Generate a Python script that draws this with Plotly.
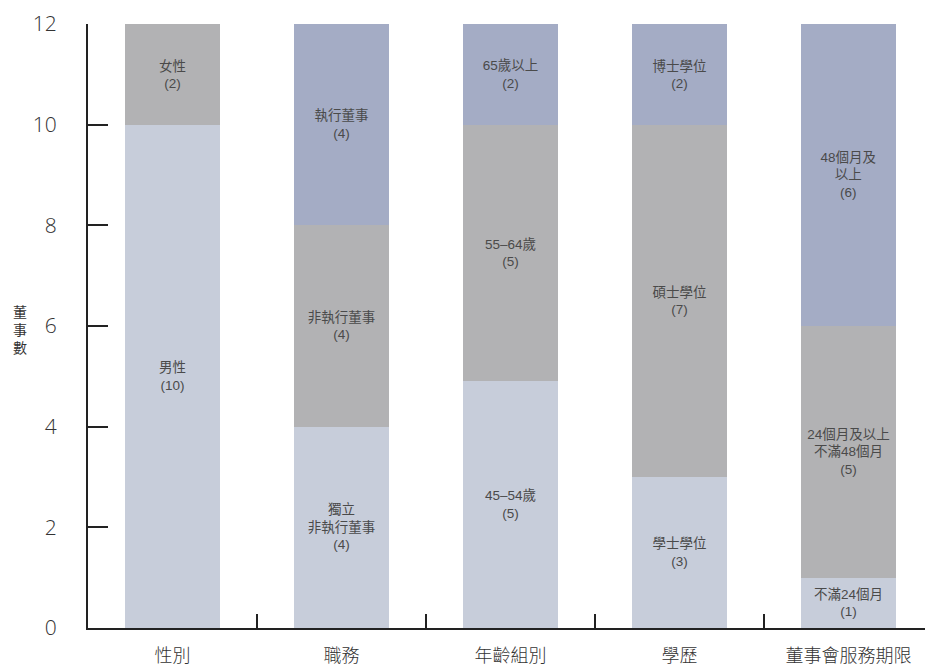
import plotly.graph_objects as go

categories = ["性別", "職務", "年齡組別", "學歷", "董事會服務期限"]

bottom_values = [10, 4, 4.9, 3, 1]
bottom_labels = ["男性<br>(10)", "獨立<br>非執行董事<br>(4)", "45–54歲<br>(5)", "學士學位<br>(3)", "不滿24個月<br>(1)"]

middle_values = [2, 4, 5.1, 7, 5]
middle_labels = ["女性<br>(2)", "非執行董事<br>(4)", "55–64歲<br>(5)", "碩士學位<br>(7)", "24個月及以上<br>不滿48個月<br>(5)"]

top_values = [0, 4, 2, 2, 6]
top_labels = ["", "執行董事<br>(4)", "65歲以上<br>(2)", "博士學位<br>(2)", "48個月及<br>以上<br>(6)"]

y_ticks = [0, 2, 4, 6, 8, 10, 12]

FONT = "Open Sans, Noto Sans CJK TC, sans-serif"
LABEL_FONT = "Liberation Sans, Noto Sans CJK TC, sans-serif"
colors = ["#C7CDDA", "#B2B2B4", "#A4ACC5"]

fig = go.Figure()
for vals, labels, col in [(bottom_values, bottom_labels, colors[0]),
                          (middle_values, middle_labels, colors[1]),
                          (top_values, top_labels, colors[2])]:
    fig.add_trace(go.Bar(
        x=categories, y=vals, text=labels,
        marker=dict(color=col, line=dict(width=0)),
        width=0.56,
        textposition="inside", insidetextanchor="middle",
        constraintext="none", textangle=0,
        textfont=dict(family=LABEL_FONT, size=13.5, color="#4a4a4a"),
        hoverinfo="skip", showlegend=False,
    ))

fig.update_layout(
    barmode="stack",
    width=925, height=666,
    margin=dict(l=88, r=0, t=24, b=38),
    plot_bgcolor="white", paper_bgcolor="white",
    font=dict(family=FONT, color="#333333"),
    xaxis=dict(
        range=[-0.5, 4.453],
        showgrid=False, zeroline=False,
        showline=True, linecolor="#222222", linewidth=2,
        ticks="inside", tickson="boundaries", ticklen=14, tickwidth=2, tickcolor="#222222",
        tickfont=dict(size=18, color="#333333", family=FONT, weight=300),
        ticklabelstandoff=10,
    ),
    yaxis=dict(
        range=[0, 12],
        tickvals=y_ticks,
        showgrid=False, zeroline=False,
        showline=True, linecolor="#222222", linewidth=2,
        ticks="inside", ticklen=20, tickwidth=2, tickcolor="#222222",
        tickfont=dict(size=21, color="#333333", family=FONT, weight=300),
        ticklabelstandoff=25,
    ),
    annotations=[dict(
        text="董<br>事<br>數", xref="paper", yref="paper",
        x=-68 / 837, y=0.495, xanchor="center", yanchor="middle",
        showarrow=False,
        font=dict(size=14, color="#333333", family=FONT),
    )],
)

fig.write_html("out.html")
